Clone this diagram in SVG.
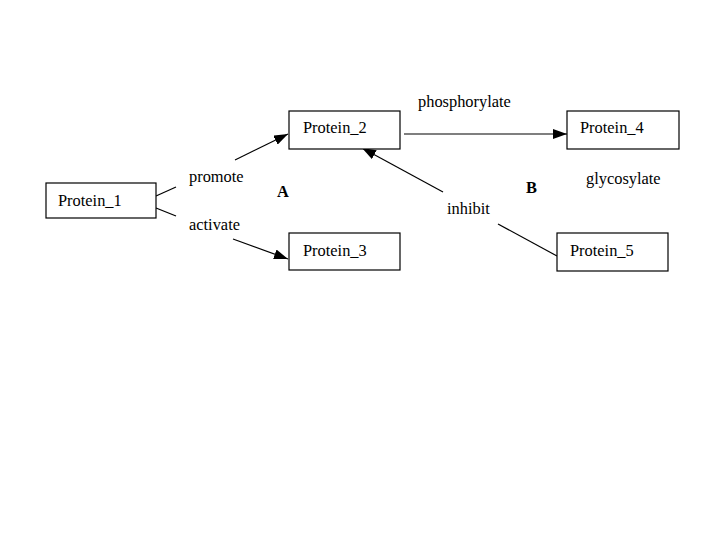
<svg xmlns="http://www.w3.org/2000/svg" width="720" height="540" viewBox="0 0 720 540">
<style>
.box{fill:#fff;stroke:#000;stroke-width:1.2}
.t{font-family:"Liberation Serif","Times New Roman",serif;font-size:16.4px;fill:#000}
.b{font-weight:bold}
.e{stroke:#000;stroke-width:1.2;fill:none}
</style>
<defs>
<marker id="ah" viewBox="0 0 14 10" refX="14" refY="5" markerWidth="14" markerHeight="10" markerUnits="userSpaceOnUse" orient="auto">
<path d="M0,0 L14,5 L0,10 Z" fill="#000"/>
</marker>
</defs>
<rect width="720" height="540" fill="#fff"/>
<g id="connectors">
<line class="e" x1="156" y1="196" x2="176" y2="187"/>
<line class="e" x1="235" y1="160" x2="288" y2="134" marker-end="url(#ah)"/>
<line class="e" x1="156" y1="208" x2="176" y2="216"/>
<line class="e" x1="233" y1="239" x2="288" y2="259" marker-end="url(#ah)"/>
<line class="e" x1="404" y1="134" x2="567" y2="134" marker-end="url(#ah)"/>
<line class="e" x1="443" y1="192" x2="362" y2="148" marker-end="url(#ah)"/>
<line class="e" x1="557" y1="256" x2="498" y2="224"/>
</g>
<g id="protein1"><rect class="box" x="46" y="183" width="110" height="35"/><text class="t" x="58" y="206">Protein_1</text></g>
<g id="protein2"><rect class="box" x="289" y="111" width="111" height="38"/><text class="t" x="303" y="133">Protein_2</text></g>
<g id="protein3"><rect class="box" x="289" y="233" width="111" height="37"/><text class="t" x="303" y="256">Protein_3</text></g>
<g id="protein4"><rect class="box" x="567" y="111" width="112" height="38"/><text class="t" x="580" y="133">Protein_4</text></g>
<g id="protein5"><rect class="box" x="557" y="233" width="111" height="38"/><text class="t" x="570" y="256">Protein_5</text></g>
<g id="labels">
<text class="t" x="189" y="182">promote</text>
<text class="t" x="189" y="230">activate</text>
<text class="t b" x="277" y="197">A</text>
<text class="t" x="418" y="107">phosphorylate</text>
<text class="t" x="447" y="214">inhibit</text>
<text class="t b" x="526" y="193">B</text>
<text class="t" x="586" y="184">glycosylate</text>
</g>
</svg>
